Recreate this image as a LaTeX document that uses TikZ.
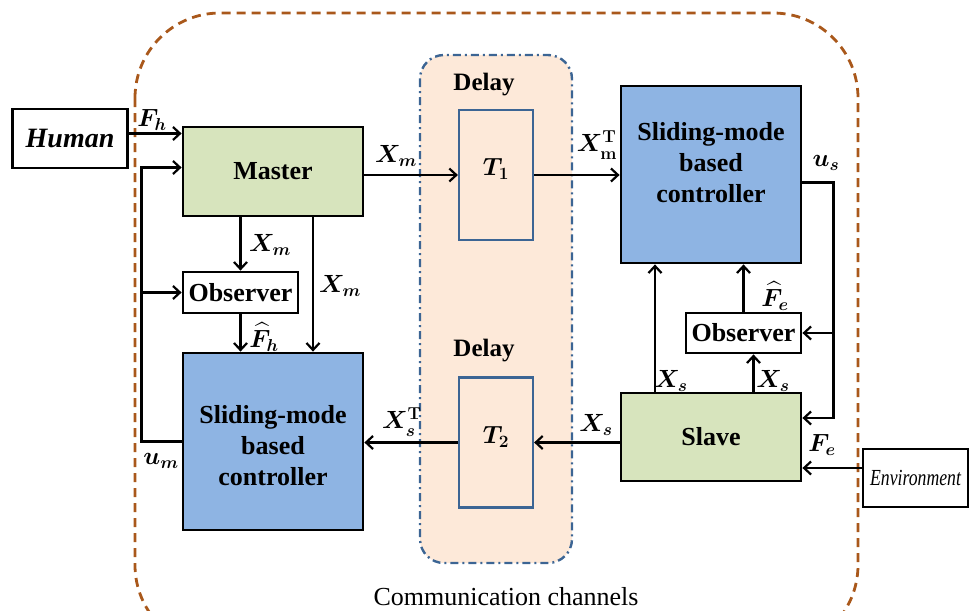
\documentclass[tikz,border=0pt]{standalone}
\usepackage{fontspec}
\usepackage{amsmath}
\setmainfont{Liberation Serif}
\usetikzlibrary{arrows.meta}

\definecolor{mastergreen}{HTML}{D7E4BD}
\definecolor{ctrlblue}{HTML}{8EB4E3}
\definecolor{chanpeach}{HTML}{FDE9D9}
\definecolor{chanblue}{HTML}{3C6594}
\definecolor{loopbrown}{HTML}{A9581B}

\tikzset{
  blk/.style={draw=black, line width=2.8pt, align=center, inner sep=0pt,
              font=\fontsize{26}{31}\selectfont\bfseries},
  delaybox/.style={draw=chanblue, line width=2.2pt, minimum width=74pt,
                   minimum height=130pt, inner sep=0pt},
  arr/.style={line width=2.4pt, -{Straight Barb[length=7pt,width=13pt,line width=2.2pt]}},
  sig/.style={inner sep=0pt, font=\fontsize{24}{26}\selectfont\boldmath},
  ttl/.style={inner sep=0pt, font=\fontsize{25}{27}\selectfont\bfseries},
}

\begin{document}
\begin{tikzpicture}[x=1pt, y=-1pt]
\useasboundingbox (0,0) rectangle (973,610);

% communication channel band
\draw[fill=chanpeach, draw=chanblue, line width=2.4pt, rounded corners=24pt,
      dash pattern=on 8pt off 4pt on 2pt off 4pt] (420,55) rectangle (572,563);

% teleoperation loop boundary
\begin{scope}
  \clip (0,0) rectangle (973,610);
  \draw[loopbrown, line width=2.8pt, dash pattern=on 9pt off 6pt, rounded corners=85pt]
    (135,13) rectangle (858,650);
\end{scope}

% blocks
\node[blk, minimum width=115pt, minimum height=59pt,
      font=\fontsize{28}{30}\selectfont\bfseries\itshape] (human) at (70,138.5) {Human};
\node[blk, fill=mastergreen, minimum width=180pt, minimum height=89pt] (master) at (273,171.5) {Master};
\node[blk, minimum width=115pt, minimum height=41pt] (obsL) at (240.5,292.5) {Observer};
\node[blk, fill=ctrlblue, minimum width=180pt, minimum height=177pt] (lsmc) at (273,441.5) {};
\node[blk, draw=none] (lsmctxt) at (273,446) {Sliding-mode\\based\\controller};

\node[delaybox] (T1) at (496,175) {};
\node[delaybox] (T2) at (496,442.5) {};
\node[sig] (t1lab) at (496,169) {$T_1$};
\node[sig] (t2lab) at (496,437) {$T_2$};
\node[ttl] (d1) at (484,85) {Delay};
\node[ttl] (d2) at (484,351) {Delay};

\node[blk, fill=ctrlblue, minimum width=180pt, minimum height=177pt] (rsmc) at (711,174.5) {};
\node[blk, draw=none] (rsmctxt) at (711,163) {Sliding-mode\\based\\controller};
\node[blk, minimum width=115pt, minimum height=40pt] (obsR) at (743.5,333) {Observer};
\node[blk, fill=mastergreen, minimum width=180pt, minimum height=88pt] (slave) at (711,437) {Slave};
\node[blk, minimum width=105pt, minimum height=58pt, font=\fontsize{23}{25}\selectfont\itshape]
     (env) at (915.5,478) {\scalebox{0.77}[1]{Environment}};

% master side
\draw[arr] ([yshift=5pt]human.east) -- ([yshift=5pt]human.east -| master.west);
\draw[arr] (master.east |- T1.west) -- (T1.west);
\draw[arr] (obsL.north |- master.south) -- (obsL.north);
\draw[arr] ([xshift=40pt]master.south) -- ([xshift=40pt]master.south |- lsmc.north);
\draw[arr] (obsL.south) -- (obsL.south |- lsmc.north);
\draw[arr] (lsmc.west) -- ++(-40,0) coordinate (umc) |- ([yshift=4pt]master.west);
\coordinate (obsfb) at (umc |- obsL.west);
\draw[arr] (obsfb) -- (obsL.west);

% slave side
\draw[arr] (T1.east) -- (T1.east -| rsmc.west);
\draw[arr] (slave.west |- T2.east) -- (T2.east);
\draw[arr] (T2.west) -- (T2.west -| lsmc.east);
\draw[arr] ([xshift=-56pt]slave.north) -- ([xshift=-56pt]rsmc.south);
\draw[arr] ([xshift=10pt]obsR.south |- slave.north) -- ([xshift=10pt]obsR.south);
\draw[arr] (obsR.north) -- (obsR.north |- rsmc.south);
\draw[arr] ([yshift=-8pt]rsmc.east) -- ++(31,0) coordinate (usc) |- ([yshift=19pt]slave.east);
\coordinate (obsfbR) at (usc |- obsR.east);
\draw[arr] (obsfbR) -- (obsR.east);
\draw[arr] ([yshift=10pt]env.west) -- ([yshift=10pt]env.west -| slave.east);

% signal labels
\node[sig] (lFh) at (152,120) {$F_h$};
\node[sig] (lXm1) at (396,156) {$X_m$};
\node[sig] (lXm2) at (270,245) {$X_m$};
\node[sig] (lXm3) at (340,286) {$X_m$};
\node[sig] (lFhh) at (264,337) {$\widehat{F}_h$};
\node[sig] (lum) at (161,461) {$u_m$};
\node[sig] (lXsT) at (402,422) {$X_s^{\mathbf{T}}$};
\node[sig] (lXs1) at (596,425) {$X_s$};
\node[sig] (lXmT) at (597,145) {$X_{\mathbf{m}}^{\mathbf{T}}$};
\node[sig] (lus) at (826,163) {$u_s$};
\node[sig] (lFeh) at (775,296) {$\widehat{F}_e$};
\node[sig] (lXs2) at (671,381) {$X_s$};
\node[sig] (lXs3) at (773,381) {$X_s$};
\node[sig] (lFe) at (822,445) {$F_e$};

\node[inner sep=0pt, font=\fontsize{26}{28}\selectfont] (cc) at (506,597) {Communication channels};
\end{tikzpicture}
\end{document}
